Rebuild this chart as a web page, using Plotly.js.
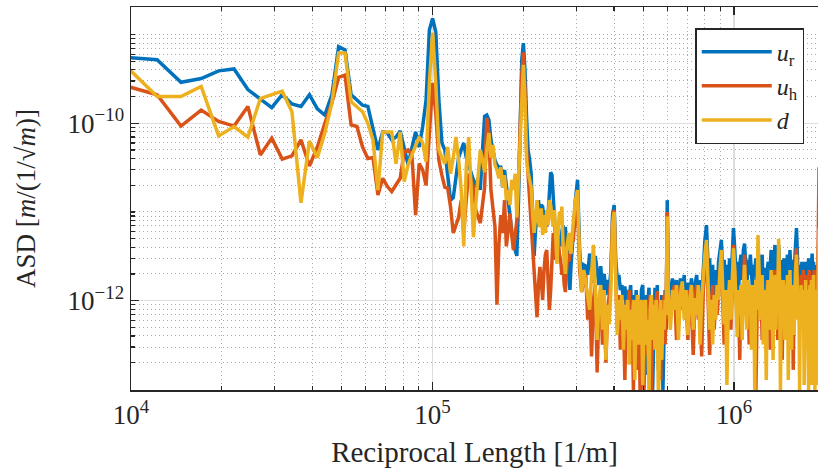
<!DOCTYPE html>
<html><head><meta charset="utf-8">
<script src="https://cdn.plot.ly/plotly-3.0.1.min.js"></script>
<style>html,body{margin:0;padding:0;background:#fff}#chart{width:818px;height:468px}</style>
</head><body><div id="chart"></div>
<script>
// frequency resolution of the spectrum [1/m]
const lineStep = 2441.40625;
function kRange(a, b, s) { const r = []; for (let k = a; k <= b; k += s) r.push(k); return r; }
const kIdx = kRange(4, 120, 1).concat(kRange(122, 248, 2), kRange(252, 784, 4));
const freq = kIdx.map(k => k * lineStep);

// ---- u_r (blue) ----
const urLow = [
5.5e-10,5.2e-10,2.9e-10,3.2e-10,3.9e-10,4.1e-10,2.4e-10,1.9e-10,1.5e-10,2.1e-10,
1.65e-10,1.55e-10,2.1e-10,1.45e-10,1.24e-10,2.1e-10,7.3e-10,6.7e-10,2.1e-10,1.83e-10,
1.6e-10,1.55e-10,8.8e-11,5.0e-11,8.0e-11,7.8e-11,6.5e-11,7.0e-11,8.2e-11,5.0e-11,
3.4e-11,5.3e-11,8.0e-11,5.4e-11,9.2e-11,1.83e-10,1.13e-9,1.52e-9,1.07e-9,1.83e-10,
6.0e-11,5.0e-11,2.6e-11,1.36e-11,1.45e-11,2.6e-11,4.1e-11,5.0e-11,6.0e-11,4.1e-11,
3.4e-11,2.7e-11,2.3e-11,1.9e-11,2.4e-11,1.77e-11,5.0e-11,1.2e-10,1.24e-10,1.09e-10,
6.5e-11,5.0e-11,3.85e-11,3.4e-11,3.2e-11,3.2e-11,1.9e-11,2.98e-11,2.0e-11,1.36e-11,
8.1e-12,5.8e-12,4.25e-12,3.73e-12,3.2e-12,1.36e-11,1.41e-10,5.2e-10,8.0e-10,4.0e-10,
1.17e-10,5.0e-11,3.85e-11,2.7e-11,8.1e-12,3.2e-12,6.3e-12,9.6e-12,1.36e-11,9.2e-12,
1.2e-11,1.15e-11,7.7e-12,1.05e-11,6.8e-12,9.2e-12,2.0e-11,2.8e-11,2.6e-11,1.36e-11,
7.1e-12,4.84e-12,7.1e-12,4.25e-12,5.5e-12,4.1e-12,6.0e-12,7.1e-12,4.84e-12,6.8e-12,
2.88e-12,3.73e-12,1.95e-12,1.32e-12,2.53e-12,4.84e-12,5.8e-12];
const urMid = [
1.36e-11,2.3e-11,3.73e-12,1.6e-12,2.53e-12,2.45e-12,1.95e-12,3.4e-12,2.75e-12,1.6e-12,
3.2e-12,2.22e-12,1.5e-12,2.45e-12,1.32e-12,2.0e-12,1.16e-12,1.71e-12,1.32e-12,2.22e-12,
9.2e-12,1.2e-11,2.88e-12,1.71e-12,1.95e-12,1.32e-12,1.5e-12,1.02e-12,1.45e-12,7.9e-13,
1.32e-12,1.02e-12,1.5e-12,6.1e-13,1.16e-12,4.7e-13,1.32e-12,6.9e-13,1.02e-12,3.2e-13,
1.32e-12,1.5e-12,4.7e-13,1.16e-12,1.46e-13,9.0e-13,1.4e-12,3.6e-13,1.02e-12,9.8e-14,
7.9e-13,1.4e-12,6.1e-13,1.5e-12,1.66e-13,1.02e-12,3.6e-13,1.16e-12,9.8e-14,7.9e-13,
1.32e-12,4.7e-13,1.36e-11,1.71e-12];
const urHigh = [
1.02e-12,1.78e-12,1.16e-12,1.71e-12,7.9e-13,1.78e-12,1.02e-12,1.95e-12,6.1e-13,1.6e-12,
1.02e-12,1.78e-12,7.9e-13,1.5e-12,1.95e-12,9.0e-13,1.71e-12,1.02e-12,2.88e-12,4.84e-12,
7.1e-12,2.53e-12,3.0e-12,1.16e-12,2.53e-12,7.9e-13,2.22e-12,1.02e-12,2.75e-12,3.73e-12,
4.84e-12,1.95e-12,2.88e-12,1.02e-12,2.53e-12,1.32e-12,3.0e-12,1.5e-12,3.73e-12,6.6e-12,
3.73e-12,1.95e-12,2.75e-12,1.32e-12,2.53e-12,3.3e-12,1.71e-12,3.73e-12,4.4e-12,2.35e-12,
1.5e-12,2.88e-12,1.95e-12,3.3e-12,2.22e-12,1.32e-12,2.53e-12,2.1e-12,3.0e-12,1.71e-12,
3.73e-12,2.75e-12,1.5e-12,2.22e-12,3.3e-12,1.32e-12,2.35e-12,1.95e-12,1.02e-12,2.22e-12,
2.75e-12,1.5e-12,3.3e-12,3.73e-12,2.22e-12,1.32e-12,2.75e-12,4.25e-12,1.95e-12,3.3e-12,
1.5e-12,4.25e-12,2.53e-12,1.71e-12,2.88e-12,1.16e-12,2.22e-12,3.0e-12,1.5e-12,2.75e-12,
1.95e-12,3.3e-12,1.32e-12,2.53e-12,3.73e-12,2.22e-12,1.5e-12,2.88e-12,1.95e-12,1.16e-12,
3.0e-12,4.84e-12,6.6e-12,3.73e-12,1.78e-12,2.53e-12,1.32e-12,2.35e-12,1.71e-12,2.75e-12,
1.02e-12,2.22e-12,1.5e-12,2.75e-12,1.95e-12,1.16e-12,2.35e-12,1.71e-12,3.0e-12,1.5e-12,
2.22e-12,1.02e-12,2.53e-12,3.4e-12,1.71e-12,2.75e-12,1.32e-12,2.22e-12,1.5e-12,2.53e-12,
1.02e-12,1.95e-12,1.32e-12,2.22e-12];

// ---- u_h (orange) ----
const uhLow = [
2.6e-10,2.1e-10,9.3e-11,1.41e-10,1.05e-10,9.3e-11,1.55e-10,4.4e-11,6.8e-11,3.95e-11,
4.3e-11,6.5e-11,3.3e-11,5.4e-11,1.0e-10,1.7e-10,3.3e-10,3.5e-10,9.6e-11,9.2e-11,
5.4e-11,4.0e-11,4.1e-11,1.55e-11,2.4e-11,1.95e-11,1.7e-11,2.0e-11,2.4e-11,4.8e-11,
5.0e-11,4.4e-11,9.2e-12,3.5e-11,2.98e-11,2.0e-11,7.4e-11,2.85e-10,1.3e-10,3.85e-11,
2.6e-11,1.9e-11,1.85e-11,1.15e-11,5.8e-12,7.1e-12,8.7e-12,1.36e-11,5.8e-12,1.36e-11,
2.7e-11,2.3e-11,1.9e-11,1.05e-11,8.7e-12,7.5e-12,1.2e-11,1.9e-11,1.15e-10,7.4e-11,
1.77e-11,9.6e-12,6.8e-12,9.0e-13,4.25e-12,9.2e-12,5.8e-12,1.36e-11,4.1e-12,6.3e-12,
9.6e-12,5.5e-12,3.73e-12,5.5e-12,8.1e-12,2.3e-11,1.09e-10,3.5e-10,6.3e-10,2.4e-10,
5.0e-11,2.6e-11,1.15e-11,7.1e-12,4.25e-12,2.4e-12,1.32e-12,6.5e-13,1.5e-12,2.4e-12,
1.71e-12,1.02e-12,2.22e-12,3.3e-12,3.73e-12,1.95e-12,7.9e-13,1.32e-12,3.73e-12,5.8e-12,
4.25e-12,2.88e-12,3.4e-12,4.84e-12,3.3e-12,2.88e-12,1.95e-12,2.53e-12,1.5e-12,1.25e-12,
2.22e-12,3.3e-12,2.75e-12,3.4e-12,4.25e-12,4.84e-12,4.84e-12];
const uhMid = [
9.2e-12,1.15e-11,2.22e-12,1.25e-12,1.71e-12,2.0e-12,6.1e-13,1.16e-12,2.35e-13,1.02e-12,
1.5e-12,1.55e-13,7.9e-13,1.32e-12,3.2e-13,1.02e-12,2.0e-13,7.9e-13,1.16e-12,1.71e-12,
8.1e-12,1.05e-11,1.95e-12,4.7e-13,1.16e-12,2.8e-13,9.0e-13,6.1e-13,1.28e-13,1.02e-12,
6.9e-13,1.32e-12,3.2e-13,9.0e-13,9.8e-14,7.9e-13,1.02e-12,1.66e-13,7.9e-13,8.7e-14,
6.1e-13,1.02e-12,8.7e-14,6.1e-13,1.02e-12,2.45e-13,7.9e-13,1.16e-12,7.6e-14,6.9e-13,
1.02e-12,3.6e-13,1.02e-12,1.28e-12,2.8e-13,7.9e-13,1.28e-13,9.0e-13,6.1e-13,1.16e-12,
3.2e-13,9.0e-13,1.0e-11,1.16e-12];
const uhHigh = [
6.1e-13,1.16e-12,1.5e-12,3.6e-13,1.02e-12,1.5e-12,7.9e-13,1.16e-12,1.02e-12,3.6e-13,
1.32e-12,7.9e-13,2.45e-13,1.16e-12,1.5e-12,6.1e-13,1.16e-12,2.35e-13,1.32e-12,2.53e-12,
4.25e-12,1.02e-12,2.45e-13,9.0e-13,1.5e-12,4.7e-13,1.02e-12,6.9e-13,1.32e-12,1.95e-12,
2.88e-12,1.02e-12,3.2e-13,1.16e-12,6.1e-13,1.02e-12,1.32e-12,4.7e-13,1.16e-12,4.25e-12,
1.95e-12,1.32e-12,6.9e-13,1.02e-12,2.15e-13,1.32e-12,7.9e-13,1.5e-12,3.3e-12,1.32e-12,
6.1e-13,1.16e-12,3.2e-13,1.32e-12,9.0e-13,4.7e-13,1.32e-12,1.02e-12,8.7e-14,1.16e-12,
3.3e-12,1.5e-12,7.9e-13,1.16e-12,3.6e-13,1.32e-12,1.02e-12,5.4e-13,1.32e-12,1.71e-12,
7.9e-13,1.16e-12,2.8e-13,1.5e-12,1.02e-12,6.1e-13,1.5e-12,2.22e-12,9.0e-13,1.32e-12,
3.6e-13,2.88e-12,1.5e-12,9.0e-13,1.16e-12,2.15e-13,1.32e-12,1.71e-12,7.9e-13,1.16e-12,
4.7e-13,1.5e-12,1.02e-12,3.2e-13,1.5e-12,1.16e-12,7.9e-13,1.32e-12,1.66e-13,1.02e-12,
1.71e-12,2.53e-12,3.9e-12,1.5e-12,1.02e-12,1.71e-12,6.9e-13,1.32e-12,1.95e-12,1.02e-12,
1.5e-12,2.22e-12,1.32e-12,1.71e-12,4.7e-13,1.5e-12,1.95e-12,1.02e-12,1.71e-12,2.22e-12,
1.32e-12,1.71e-12,1.02e-12,1.95e-12,1.32e-12,1.71e-12,2.22e-12,1.16e-12,1.71e-12,1.02e-12,
1.5e-12,1.95e-12,6.3e-12,3.2e-11];

// ---- d (yellow) ----
const dLow = [
4.2e-10,2.0e-10,2.0e-10,2.6e-10,7.2e-11,9.2e-11,7.0e-11,1.9e-10,2.1e-10,2.3e-10,
1.35e-10,1.27e-11,6.3e-11,4.1e-11,7.8e-11,1.7e-10,6.2e-10,6.2e-10,1.75e-10,1.55e-10,
1.35e-10,1.0e-10,6.5e-11,1.77e-11,8.0e-11,8.0e-11,8.0e-11,3.5e-11,8.0e-11,2.2e-11,
3.4e-11,4.4e-11,5.7e-11,7.0e-11,6.0e-11,3.7e-11,2.85e-10,1.05e-9,2.85e-10,5.0e-11,
4.1e-11,3.5e-11,5.4e-11,2.7e-11,4.1e-11,7.0e-11,3.85e-11,1.77e-11,4.1e-12,3.2e-11,
7.0e-11,2.3e-11,5.2e-12,1.2e-11,2.6e-11,5.0e-11,3.85e-11,2.8e-11,5.0e-11,7.8e-11,
4.1e-11,5.7e-11,3.4e-11,2.98e-11,2.4e-11,3.2e-11,1.9e-11,2.6e-11,1.36e-11,1.77e-11,
1.2e-11,2.3e-11,1.77e-11,2.7e-11,8.7e-12,2.6e-11,5.0e-11,2.1e-10,4.55e-10,1.83e-10,
3.85e-11,2.8e-11,2.3e-11,1.9e-11,9.2e-12,5.8e-12,9.2e-12,1.36e-11,7.7e-12,6.8e-12,
1.1e-11,5.5e-12,9.2e-12,5.8e-12,1.05e-11,7.1e-12,1.36e-11,1.2e-11,8.5e-12,6.8e-12,
1.05e-11,4.84e-12,2.6e-12,6.3e-12,1.0e-11,7.1e-12,1.15e-11,4.25e-12,3.0e-12,2.0e-12,
3.73e-12,4.84e-12,5.8e-12,3.9e-12,3.4e-12,5.5e-12,8.1e-12];
const dMid = [
1.36e-11,1.77e-11,2.88e-12,1.25e-12,2.22e-12,1.6e-12,1.02e-12,7.9e-13,1.95e-12,4.25e-12,
1.32e-12,3.6e-13,1.02e-12,1.5e-12,4.7e-13,1.32e-12,2.15e-13,9.0e-13,5.4e-13,1.32e-12,
7.1e-12,1.0e-11,1.71e-12,4.1e-13,1.02e-12,6.1e-13,1.16e-12,2.8e-13,9.0e-13,4.7e-13,
1.02e-12,1.9e-13,7.9e-13,3.6e-13,1.02e-12,1.28e-13,7.9e-13,1.16e-12,3.2e-13,7.9e-13,
1.02e-12,1.12e-13,6.9e-13,1.02e-12,3.2e-13,6.1e-13,8.7e-14,7.9e-13,1.16e-12,3.6e-13,
9.0e-13,2.8e-13,1.02e-12,6.4e-13,7.6e-14,6.1e-13,1.02e-12,2.15e-13,7.9e-13,4.7e-13,
1.02e-12,6.9e-13,8.9e-12,1.02e-12];
const dHigh = [
4.7e-13,1.32e-12,7.9e-13,1.5e-12,3.6e-13,1.16e-12,1.65e-12,6.1e-13,1.32e-12,4.1e-13,
1.02e-12,1.5e-12,4.7e-13,1.07e-12,6.9e-13,1.5e-12,3.2e-13,1.02e-12,1.95e-12,3.3e-12,
4.84e-12,1.5e-12,4.7e-13,1.02e-12,3.2e-13,1.16e-12,6.1e-13,1.5e-12,1.02e-12,2.22e-12,
3.73e-12,1.32e-12,5.4e-13,1.32e-12,1.12e-13,9.0e-13,1.71e-12,6.1e-13,1.5e-12,3.9e-12,
2.22e-12,1.02e-12,3.9e-13,1.32e-12,6.9e-13,1.5e-12,3.6e-13,1.32e-12,2.53e-12,1.02e-12,
4.7e-13,1.71e-12,7.9e-13,1.5e-12,2.8e-13,1.02e-12,1.5e-12,9.8e-14,1.71e-12,7.9e-13,
5.5e-12,2.22e-12,6.1e-13,1.32e-12,1.95e-12,3.2e-13,1.32e-12,7.9e-13,1.28e-13,1.16e-12,
1.71e-12,4.7e-13,1.5e-12,2.22e-12,7.9e-13,2.15e-13,1.32e-12,1.95e-12,4.7e-13,1.5e-12,
1.02e-12,5.0e-12,1.71e-12,9.8e-14,1.32e-12,6.1e-13,1.71e-12,1.02e-12,3.6e-13,1.5e-12,
7.9e-13,1.95e-12,1.28e-13,1.32e-12,2.22e-12,6.9e-13,2.8e-13,1.5e-12,1.02e-12,4.1e-13,
1.5e-12,2.22e-12,3.3e-12,1.71e-12,6.1e-13,1.32e-12,9.8e-14,1.02e-12,1.5e-12,4.7e-13,
7.9e-13,1.32e-12,1.12e-13,1.16e-12,1.71e-12,3.6e-13,1.32e-12,9.0e-13,9.8e-14,1.02e-12,
1.5e-12,6.1e-13,1.71e-12,1.12e-13,1.02e-12,1.95e-12,4.7e-13,9.8e-14,1.32e-12,7.9e-13,
1.12e-13,1.5e-12,2.88e-12,6.6e-12];

const ur = urLow.concat(urMid, urHigh);
const uh = uhLow.concat(uhMid, uhHigh);
const dd = dLow.concat(dMid, dHigh);

const xTickVals = [1e4, 1e5, 1e6];
const xTickText = ['10<sup>4</sup>', '10<sup>5</sup>', '10<sup>6</sup>'];
const yTickVals = [1e-12, 1e-10];
const yTickText = ['10<sup>\u221212</sup>', '10<sup>\u221210</sup>'];
const xMinor = [];
[1e4, 1e5, 1e6].forEach(d => { for (let m = 2; m <= 9; m++) xMinor.push(m * d); });
const yMinor = [];
[1e-13, 1e-12, 1e-11, 1e-10, 1e-9].forEach(d => { for (let m = 1; m <= 9; m++) { const v = m * d; if (v !== 1e-12 && v !== 1e-10) yMinor.push(v); } });

const serif = '"Liberation Serif", "DejaVu Serif", serif';
const ink = '#262626';

const traces = [
  {x: freq, y: ur, type: 'scatter', mode: 'lines', name: '<i>u</i><sub>r</sub>', line: {color: '#0072BD', width: 3.5}},
  {x: freq, y: uh, type: 'scatter', mode: 'lines', name: '<i>u</i><sub>h</sub>', line: {color: '#D95319', width: 3.5}},
  {x: freq, y: dd, type: 'scatter', mode: 'lines', name: '<i>d</i>', line: {color: '#EDB120', width: 3.5}}
];

const axisCommon = {
  type: 'log', ticks: 'inside', ticklen: 8, tickwidth: 1.2, tickcolor: ink,
  showline: true, linecolor: ink, linewidth: 1.5, zeroline: false,
  showgrid: true, gridcolor: '#dedede', gridwidth: 1.3,
  tickfont: {family: serif, size: 27, color: ink}, tickmode: 'array'
};

const minorGrid = {ticks: 'inside', ticklen: 4, tickcolor: ink,
  showgrid: true, gridcolor: '#aaaaaa', griddash: '1px,3px', gridwidth: 1};

const layout = {
  width: 818, height: 468,
  margin: {l: 131, r: 0, t: 7, b: 78},
  paper_bgcolor: '#fff', plot_bgcolor: '#fff',
  showlegend: true,
  legend: {x: 0.98, y: 0.945, xanchor: 'right', yanchor: 'top', bgcolor: '#fff',
           bordercolor: ink, borderwidth: 1.5, font: {family: serif, size: 24, color: ink},
           itemwidth: 70, tracegroupgap: 0},
  xaxis: Object.assign({}, axisCommon, {
    range: [4, 6.2786], tickvals: xTickVals, ticktext: xTickText, mirror: 'ticks',
    title: {text: 'Reciprocal Length [1/m]', font: {family: serif, size: 29, color: ink}, standoff: 18},
    minor: Object.assign({tickmode: 'array', tickvals: xMinor}, minorGrid)
  }),
  yaxis: Object.assign({}, axisCommon, {
    range: [-13.007, -8.689], tickvals: yTickVals, ticktext: yTickText, mirror: false,
    title: {text: 'ASD [<i>m</i>/(1/\u221A<i>m</i>)]', font: {family: serif, size: 27, color: ink}, standoff: 24},
    minor: Object.assign({tickmode: 'array', tickvals: yMinor}, minorGrid)
  })
};

Plotly.newPlot('chart', traces, layout, {displayModeBar: false, staticPlot: true});
</script>
</body></html>
